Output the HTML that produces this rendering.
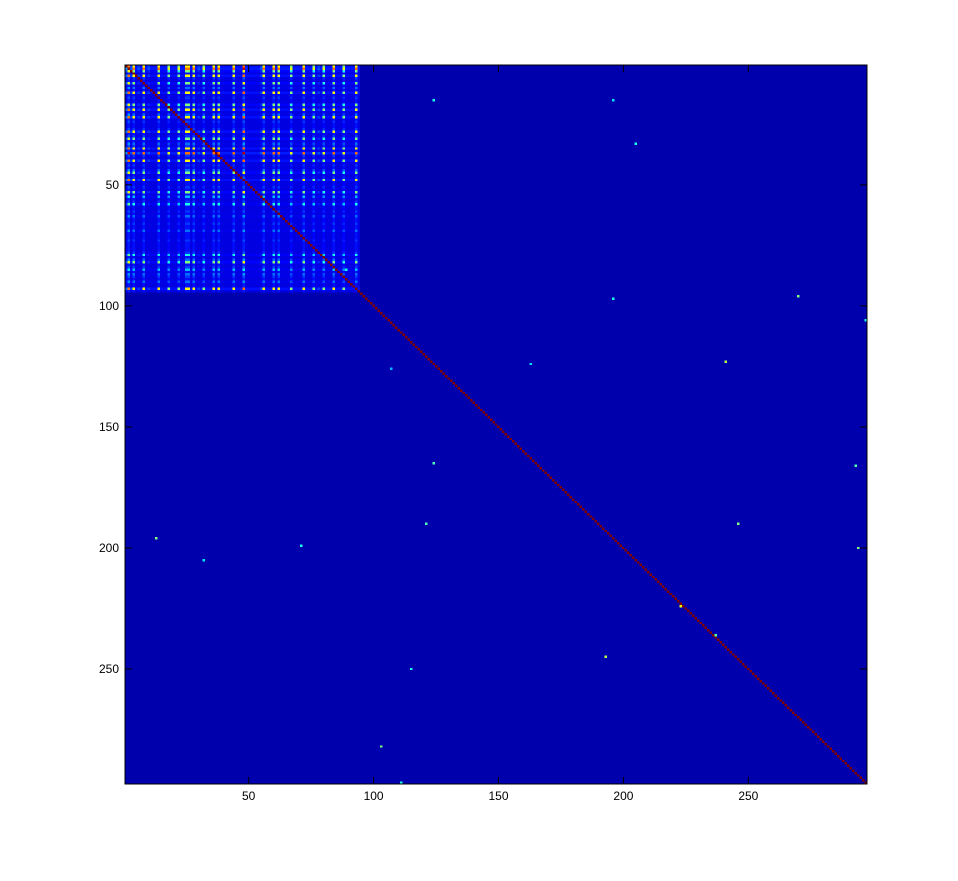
<!DOCTYPE html>
<html><head><meta charset="utf-8"><style>
body{margin:0;background:#fff;width:958px;height:881px;overflow:hidden;font-family:"Liberation Sans",sans-serif}
#wrap{position:relative;width:958px;height:881px}
canvas{position:absolute;left:125px;top:65px;width:742px;height:719px;image-rendering:pixelated}
svg{position:absolute;left:0;top:0}
</style></head><body>
<div id="wrap">
<canvas id="hm" width="297" height="297"></canvas>
<svg width="958" height="881" id="ax"></svg>
</div>
<script>
const N = 297;
const blockSize = 94;
const baseValue = 0.045;
const blockBase = 0.09;
const blockRowW = [0.9,1,0.8,0.3,0.9,0.4,0.3,0.8,0.3,0.5,0.3,0.9,0.3,0.4,0.3,0.3,0.8,0.4,0.9,0.3,0.5,0.9,0.3,0.4,0.3,0.3,0.4,0.9,0.3,0.4,0.8,0.3,0.5,0.4,0.9,0.3,1,0.4,0.3,0.9,0.3,0.4,0.3,0.5,0.8,0.3,0.4,0.9,0.3,0.3,0.4,0.3,0.8,0.3,0.6,0.3,0.4,0.7,0.3,0.3,0.4,0.3,0.5,0.3,0.3,0.4,0.3,0.3,0.5,0.3,0.3,0.3,0.4,0.3,0.3,0.3,0.3,0.4,0.7,0.3,0.5,0.8,0.3,0.4,0.6,0.3,0.5,0.4,0.3,0.5,0.3,0.3,0.9,0.3];
const blockColW = [0.5,1,0.4,0.9,0.3,0.4,0.3,0.9,0.3,0.4,0.3,0.3,0.3,0.9,0.3,0.3,0.3,0.8,0.3,0.3,0.3,0.8,0.3,0.3,0.9,0.9,0.3,0.9,0.3,0.4,0.3,0.8,0.3,0.3,0.3,0.9,0.3,0.9,0.3,0.3,0.3,0.3,0.3,0.9,0.3,0.3,0.3,1,0.3,0.3,0.3,0.3,0.3,0.3,0.4,0.9,0.3,0.3,0.3,0.9,0.3,0.9,0.3,0.3,0.3,0.3,0.8,0.3,0.3,0.3,0.3,0.9,0.3,0.3,0.3,0.8,0.3,0.4,0.3,0.8,0.3,0.3,0.3,0.9,0.3,0.3,0.3,0.8,0.3,0.3,0.3,0.3,0.9,0.3];
const hotRows = [33,96,200,190,190,15,165,250,282,245,123,224,236,196,199,205,106,166,15,85,126,97,297,124];
const hotCols = [205,270,294,121,246,196,124,115,103,193,241,223,237,13,71,32,297,293,124,89,107,196,111,163];
const hotVals = [0.4,0.5,0.5,0.45,0.5,0.35,0.45,0.4,0.5,0.55,0.55,0.6,0.45,0.5,0.4,0.35,0.4,0.45,0.4,0.4,0.3,0.4,0.4,0.35];
const xTicks = [50,100,150,200,250];
const yTicks = [50,100,150,200,250];

function jet(v){
  const c=x=>Math.max(0,Math.min(1,x));
  return [c(1.5-Math.abs(4*v-3)),c(1.5-Math.abs(4*v-2)),c(1.5-Math.abs(4*v-1))].map(x=>Math.round(x*255));
}
const cv=document.getElementById('hm'),ctx=cv.getContext('2d');
const img=ctx.createImageData(N,N);
const vals=new Float32Array(N*N).fill(baseValue);
for(let i=0;i<blockSize;i++)for(let j=0;j<blockSize;j++){
  const r=blockRowW[i],c=blockColW[j];
  vals[i*N+j]=blockBase+0.85*Math.pow(r*c,2.2);
}
for(let k=0;k<hotRows.length;k++)vals[(hotRows[k]-1)*N+hotCols[k]-1]=hotVals[k];
for(let i=0;i<N;i++)vals[i*N+i]=1;
for(let p=0;p<N*N;p++){const [r,g,b]=jet(vals[p]);img.data[p*4]=r;img.data[p*4+1]=g;img.data[p*4+2]=b;img.data[p*4+3]=255;}
ctx.putImageData(img,0,0);

const svg=document.getElementById('ax');const NS='http://www.w3.org/2000/svg';
const L=125,T=65,W=742,H=719;
const xs=v=>L+(v-0.5)*W/N, ys=v=>T+(v-0.5)*H/N;
function el(t,a){const e=document.createElementNS(NS,t);for(const k in a)e.setAttribute(k,a[k]);svg.appendChild(e);return e;}
const fr=el('rect',{x:L,y:T,width:W,height:H,fill:'none',stroke:'#000','stroke-width':1});


xTicks.forEach(v=>{
  const x=xs(v);
  const t1=el('line',{x1:x,y1:T+H,x2:x,y2:T+H-7,stroke:'#000'});
  
  
  const t2=el('line',{x1:x,y1:T,x2:x,y2:T+7,stroke:'#000'});
  
  
  const tx=el('text',{x:x,y:T+H+16,'text-anchor':'middle','font-size':12,fill:'#000'});tx.textContent=v;
  
  
});
yTicks.forEach(v=>{
  const y=ys(v);
  const t1=el('line',{x1:L,y1:y,x2:L+7,y2:y,stroke:'#000'});
  
  
  const t2=el('line',{x1:L+W,y1:y,x2:L+W-7,y2:y,stroke:'#000'});
  
  
  const tx=el('text',{x:L-6,y:y+4,'text-anchor':'end','font-size':12,fill:'#000'});tx.textContent=v;
  
  
});
</script>
</body></html>
